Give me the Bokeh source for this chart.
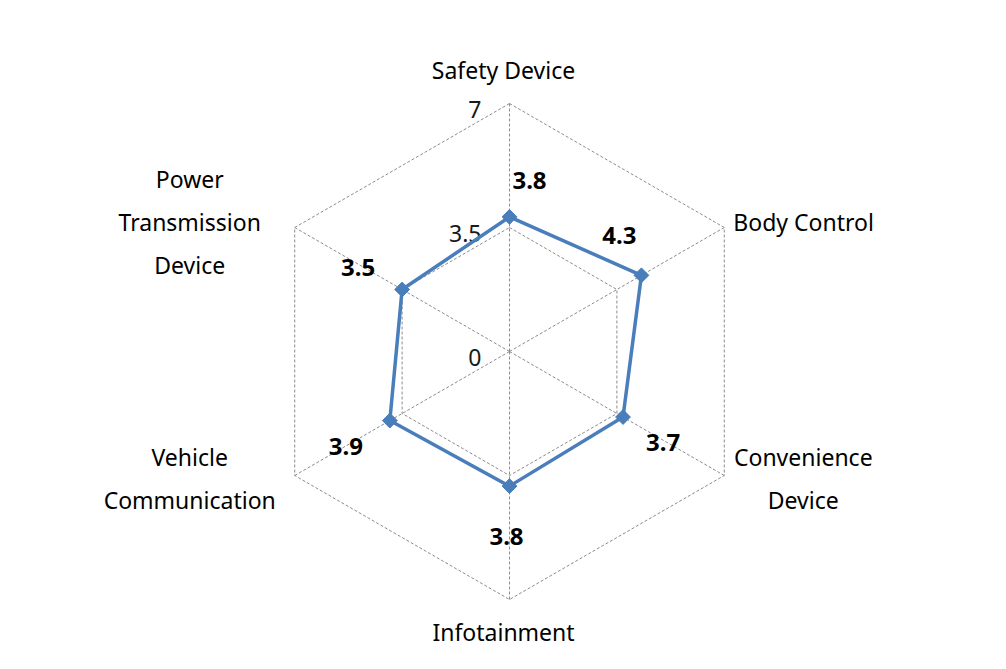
import math
from bokeh.plotting import figure
from bokeh.models import Range1d, ColumnDataSource
from bokeh.embed import file_html
from bokeh.resources import INLINE
from bokeh.core.properties import value

# ---- data ----
categories = ["Safety Device", "Body Control", "Convenience\nDevice",
              "Infotainment", "Vehicle\nCommunication", "Power\nTransmission\nDevice"]
scores = [3.8, 4.3, 3.7, 3.8, 3.9, 3.5]
score_labels = ["3.8", "4.3", "3.7", "3.8", "3.9", "3.5"]
ticks = [0, 3.5, 7]
tick_labels = ["0", "3.5", "7"]
r_max = 7

# ---- layout ----
W, H = 990, 653
CX, CY = 509, 351          # centre in canvas pixels
S = 248 / r_max            # pixels per value unit

FONT = "Noto Sans"
LINE = "#4a7ebb"
GRID = "#8c8c8c"

p = figure(width=W, height=H, output_backend="svg", toolbar_location=None,
           x_axis_location=None, y_axis_location=None, min_border=0,
           x_range=Range1d(-CX / S, (W - CX) / S),
           y_range=Range1d(-(H - CY) / S, CY / S))
p.outline_line_color = None
p.grid.visible = False
p.background_fill_color = "white"

n = len(categories)
angles = [math.radians(90 - 60 * i) for i in range(n)]

def pt(r, a):
    return r * math.cos(a), r * math.sin(a)

def off(x, y, dx, dy):
    # pixel offsets (screen: dy positive = down) converted to data units
    return x + dx / S, y - dy / S

# grid hexagons
for t in ticks[1:]:
    xs = [pt(t, a)[0] for a in angles] + [pt(t, angles[0])[0]]
    ys = [pt(t, a)[1] for a in angles] + [pt(t, angles[0])[1]]
    p.line(xs, ys, line_color=GRID, line_width=1, line_dash="3 2")
# spokes
p.multi_line([[0, pt(r_max, a)[0]] for a in angles],
             [[0, pt(r_max, a)[1]] for a in angles],
             line_color=GRID, line_width=1, line_dash="3 2")

# tick labels along the top axis
tx, ty = [], []
for t in ticks:
    x, y = off(*pt(t, angles[0]), -28, 6)
    tx.append(x); ty.append(y)
p.text(tx, ty, text=tick_labels, text_align="right", text_baseline="middle",
       text_font=value(FONT), text_font_size="23px", text_color="#1a1a1a")

# data series
dx = [pt(v, a)[0] for v, a in zip(scores, angles)]
dy = [pt(v, a)[1] for v, a in zip(scores, angles)]
p.line(dx + [dx[0]], dy + [dy[0]], line_color=LINE, line_width=3.5, line_join="round")
p.scatter(dx, dy, marker="square", size=10.5, angle=math.pi / 4,
          fill_color=LINE, line_color=LINE, line_width=1)

# data labels
lab_off = [(20, -36), (-22, -40), (40, 25), (-3, 50), (-44, 26), (-44, -22)]
lx, ly = [], []
for x, y, (ox, oy) in zip(dx, dy, lab_off):
    X, Y = off(x, y, ox, oy)
    lx.append(X); ly.append(Y)
p.text(lx, ly, text=score_labels, text_align="center", text_baseline="middle",
       text_font=value(FONT), text_font_size="24px", text_font_style="bold",
       text_color="black")

# category labels
cat_pos = [(-6, -34, "center"), (9, -6, "left"), (79, 3, "center"),
           (-6, 32, "center"), (-105, 3, "center"), (-105, -6, "center")]
LH = 43
cx_l, cy_l, ct, ca = [], [], [], []
for cat, a, (ox, oy, al) in zip(categories, angles, cat_pos):
    vx, vy = pt(r_max, a)
    lines = cat.split("\n")
    k = len(lines)
    for j, ln in enumerate(lines):
        X, Y = off(vx, vy, ox, oy + (j - (k - 1) / 2) * LH)
        cx_l.append(X); cy_l.append(Y); ct.append(ln); ca.append(al)
src = ColumnDataSource(dict(x=cx_l, y=cy_l, text=ct, align=ca))
p.text("x", "y", text="text", text_align="align", text_baseline="middle",
       text_font=value(FONT), text_font_size="23px", text_color="black", source=src)

open("out.html", "w").write(file_html(p, INLINE))
